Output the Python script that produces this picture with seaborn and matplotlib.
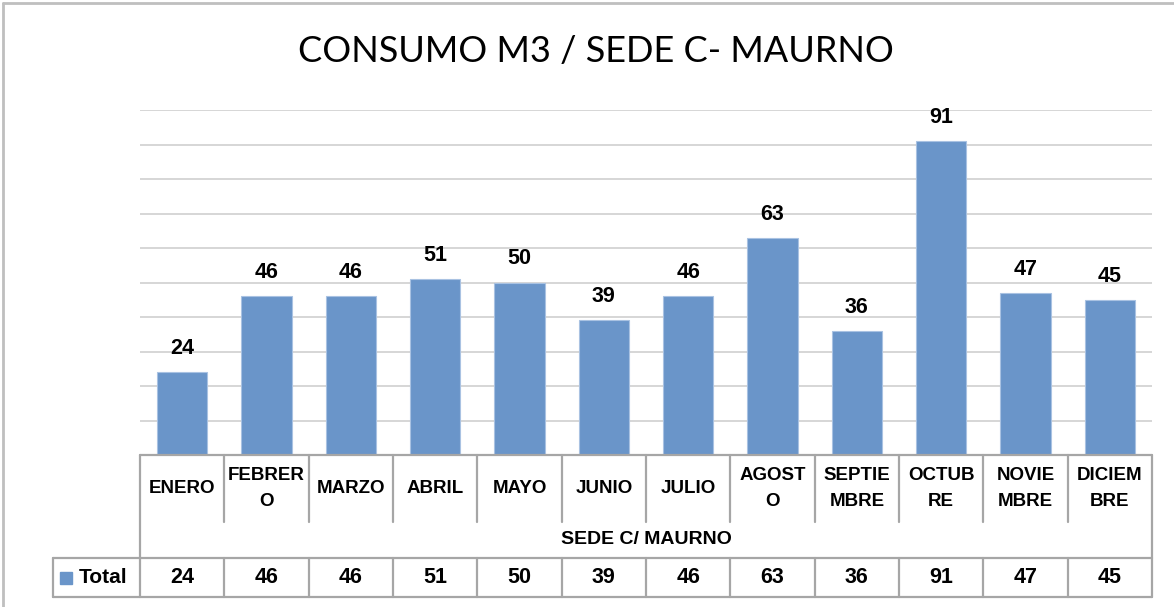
import matplotlib
matplotlib.use("Agg")
import pandas as pd
import seaborn as sns
from matplotlib import pyplot as plt
from matplotlib.lines import Line2D

# data
months = ["ENERO", "FEBRERO", "MARZO", "ABRIL", "MAYO", "JUNIO",
          "JULIO", "AGOSTO", "SEPTIEMBRE", "OCTUBRE", "NOVIEMBRE", "DICIEMBRE"]
month_labels = ["ENERO", "FEBRER\nO", "MARZO", "ABRIL", "MAYO", "JUNIO",
                "JULIO", "AGOST\nO", "SEPTIE\nMBRE", "OCTUB\nRE", "NOVIE\nMBRE", "DICIEM\nBRE"]
consumo = [24, 46, 46, 51, 50, 39, 46, 63, 36, 91, 47, 45]
title = "CONSUMO M3 / SEDE C- MAURNO"
group_label = "SEDE C/ MAURNO"
series_name = "Total"

bar_color = "#6A95C9"
line_color = "#A6A6A6"

sns.set_style("white")
plt.rcParams["font.family"] = ["Liberation Sans", "DejaVu Sans"]
plt.rcParams["text.color"] = "black"
bold = dict(fontweight="bold")

df = pd.DataFrame({"mes": months, "total": consumo})

fig = plt.figure(figsize=(11.74, 6.07), dpi=100)
# axes placed in pixel terms: x 140..1152, y 110..455 (top-left origin)
W, H = 1174, 607
ax = fig.add_axes([140 / W, (H - 455) / H, 1012 / W, 345 / H])

sns.barplot(data=df, x="mes", y="total", color=bar_color, width=0.6,
            saturation=1, edgecolor="#A9C2E2", linewidth=0.8, ax=ax, zorder=3)

ax.set_ylim(0, 100)
ax.set_xlim(-0.5, len(months) - 0.5)
ax.set_yticks(range(10, 101, 10))
ax.yaxis.grid(True, color="#D0D0D0", linewidth=1.2, zorder=0)
ax.set_axisbelow(True)
ax.tick_params(left=False, bottom=False, labelleft=False, labelbottom=False)
ax.set_xlabel("")
ax.set_ylabel("")
for s in ax.spines.values():
    s.set_visible(False)

# value labels above bars
for i, v in enumerate(consumo):
    ax.annotate(str(v), (i, v), xytext=(0, 13), textcoords="offset points",
                ha="center", va="baseline", fontsize=15.5, **bold)

# data table below the plot (x in data units, y in axes fraction)
tr = ax.get_xaxis_transform()


def ypx(py):
    return (455 - py) / 345


y_top, y_hdr, y_grp, y_bot = ypx(455), ypx(522), ypx(558), ypx(597)
x0, x1 = -0.5, len(months) - 0.5
x_leg = -0.5 - 87 / (1012 / 12)
kw = dict(color=line_color, linewidth=1.6, transform=tr, clip_on=False, zorder=4)

ax.plot([x0, x1], [y_top, y_top], **kw)
ax.plot([x_leg, x1], [y_grp, y_grp], **kw)
ax.plot([x_leg, x1], [y_bot, y_bot], **kw)
ax.plot([x0, x0], [y_top, y_bot], **kw)
ax.plot([x1, x1], [y_top, y_bot], **kw)
ax.plot([x_leg, x_leg], [y_grp, y_bot], **kw)
for i in range(1, len(months)):
    xb = i - 0.5
    ax.plot([xb, xb], [y_top, y_hdr], **kw)
    ax.plot([xb, xb], [y_grp, y_bot], **kw)

for i, lab in enumerate(month_labels):
    ax.text(i, (y_top + y_hdr) / 2, lab, transform=tr, ha="center", va="center",
            fontsize=13.5, linespacing=1.65, **bold)
    ax.text(i, (y_grp + y_bot) / 2, str(consumo[i]), transform=tr, ha="center",
            va="center", fontsize=15.5, **bold)

ax.text((x0 + x1) / 2, (y_hdr + y_grp) / 2, group_label, transform=tr,
        ha="center", va="center", fontsize=14, **bold)

# legend key inside the table
ax.plot([x_leg + 0.16], [(y_grp + y_bot) / 2], marker="s", markersize=9,
        color=bar_color, transform=tr, clip_on=False)
ax.text(x_leg + 0.3, (y_grp + y_bot) / 2, series_name, transform=tr,
        ha="left", va="center", fontsize=15, **bold)

fig.text(0.508, 1 - 52 / H, title, ha="center", va="center", fontsize=26,
         family=["Lato", "DejaVu Sans"])

# outer chart border (left and top)
fig.add_artist(Line2D([3 / W, 3 / W], [0, 1 - 3 / H], color="#BFBFBF", linewidth=2))
fig.add_artist(Line2D([3 / W, 1], [1 - 3 / H, 1 - 3 / H], color="#BFBFBF", linewidth=2))

fig.savefig("out.png", dpi=100)
